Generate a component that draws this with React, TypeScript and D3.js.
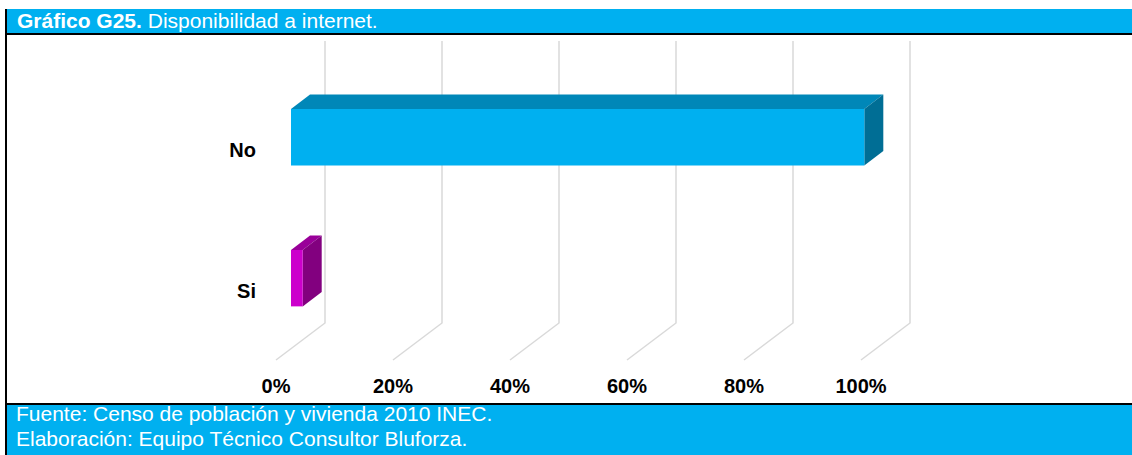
import React from "react";
import * as d3 from "d3";

const categories = ["No", "Si"];
const values = [98, 2];
const tickValues = [0, 20, 40, 60, 80, 100];
const tickLabels = ["0%", "20%", "40%", "60%", "80%", "100%"];
const titleBold = "Gráfico G25.";
const titleRest = " Disponibilidad a internet.";
const footerLines = [
  "Fuente: Censo de población y vivienda 2010 INEC.",
  "Elaboración: Equipo Técnico Consultor Bluforza.",
];

const W = 1132;
const H = 455;
const FONT = "'Liberation Sans', Arial, sans-serif";
const BLUE = "#00B0F0";

const faceColors = [
  { front: "#00B0F0", top: "#0087B8", side: "#006E95" },
  { front: "#CC00CC", top: "#990099", side: "#82007F" },
];

export default function App() {
  // front-plane geometry
  const x = d3.scaleLinear().domain([0, 100]).range([276, 861]);
  const y = d3.scaleBand<string>().domain(categories).range([78, 360]).paddingInner(0.6).paddingOuter(0.3);
  const depthX = 49;
  const depthY = -37;
  const frontF = 0.306;
  const backF = 0.694;
  const floorFrontY = 360;

  const bars = categories.map((c, i) => {
    const y0 = y(c)!;
    const y1 = y0 + y.bandwidth();
    const xl = x(0);
    const xr = x(values[i]);
    const fdx = depthX * frontF, fdy = depthY * frontF;
    const bdx = depthX * backF, bdy = depthY * backF;
    const p = (px: number, py: number) => `${px},${py}`;
    const front = [p(xl + fdx, y0 + fdy), p(xr + fdx, y0 + fdy), p(xr + fdx, y1 + fdy), p(xl + fdx, y1 + fdy)].join(" ");
    const top = [p(xl + fdx, y0 + fdy), p(xr + fdx, y0 + fdy), p(xr + bdx, y0 + bdy), p(xl + bdx, y0 + bdy)].join(" ");
    const side = [p(xr + fdx, y0 + fdy), p(xr + bdx, y0 + bdy), p(xr + bdx, y1 + bdy), p(xr + fdx, y1 + fdy)].join(" ");
    return { c, i, front, top, side };
  });

  return (
    <svg width={W} height={H} style={{ position: "absolute", left: 0, top: 0, display: "block" }}>
      <rect x={0} y={0} width={W} height={H} fill="#fff" />
      {/* header */}
      <rect x={7} y={9} width={W - 7} height={24} fill={BLUE} />
      <rect x={5} y={33} width={W - 5} height={2} fill="#000" />
      <text x={17} y={28} fill="#fff" fontFamily={FONT} fontSize={21}>
        <tspan fontWeight="bold">{titleBold}</tspan>
        <tspan>{titleRest}</tspan>
      </text>
      {/* footer */}
      <rect x={5} y={403} width={W - 5} height={2} fill="#000" />
      <rect x={7} y={405} width={W - 7} height={H - 405} fill={BLUE} />
      {footerLines.map((t, i) => (
        <text key={i} x={16} y={421 + i * 25} fill="#fff" fontFamily={FONT} fontSize={21}>
          {t}
        </text>
      ))}
      {/* left border */}
      <rect x={5} y={9} width={2} height={H - 9} fill="#000" />
      {/* gridlines */}
      {tickValues.map((v) => {
        const fx = x(v);
        const bx = fx + depthX;
        const by = floorFrontY + depthY;
        return (
          <path
            key={v}
            d={`M${bx},41 L${bx},${by} L${fx},${floorFrontY}`}
            fill="none"
            stroke="#D9D9D9"
            strokeWidth={1.5}
          />
        );
      })}
      {/* bars */}
      {bars.map((b) => (
        <g key={b.c}>
          <polygon points={b.top} fill={faceColors[b.i].top} />
          <polygon points={b.side} fill={faceColors[b.i].side} />
          <polygon points={b.front} fill={faceColors[b.i].front} />
        </g>
      ))}
      {/* category labels */}
      {categories.map((c) => (
        <text
          key={c}
          x={256}
          y={y(c)! + y.bandwidth() / 2 + 8}
          textAnchor="end"
          fontFamily={FONT}
          fontWeight="bold"
          fontSize={20}
          fill="#000"
        >
          {c}
        </text>
      ))}
      {/* tick labels */}
      {tickValues.map((v, i) => (
        <text
          key={v}
          x={x(v)}
          y={393}
          textAnchor="middle"
          fontFamily={FONT}
          fontWeight="bold"
          fontSize={20}
          fill="#000"
        >
          {tickLabels[i]}
        </text>
      ))}
    </svg>
  );
}
